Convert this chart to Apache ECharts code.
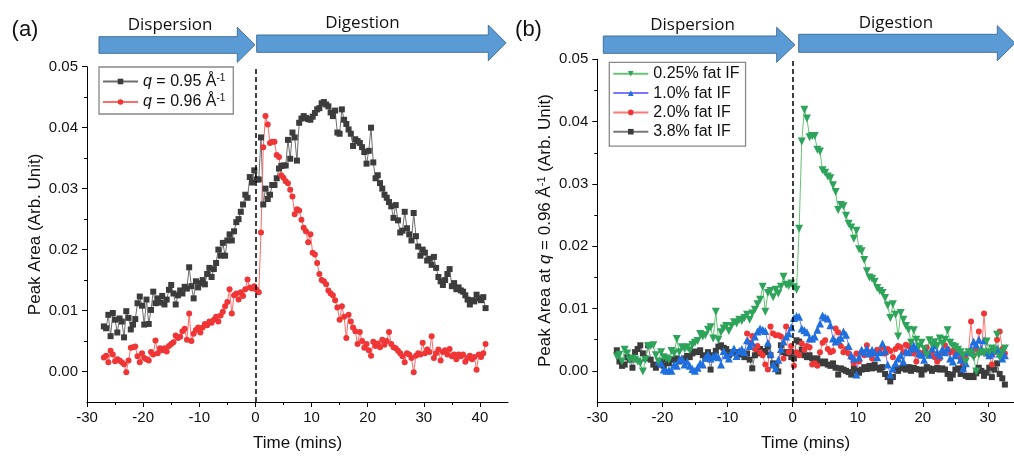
<!DOCTYPE html>
<html>
<head>
<meta charset="utf-8">
<script src="https://cdn.jsdelivr.net/npm/echarts@6/dist/echarts.min.js"></script>
<style>
html, body { margin: 0; background: #fff; }
#chart { width: 1014px; height: 457px; }
</style>
</head>
<body>
<div id="chart"></div>
<script>
// sampling: one point every 0.4 min
const STEP = 0.4
const START_A = -27      // both curves of panel (a), and 0.25 % / 3.8 % of (b)
const START_FAT10 = -20.6
const START_FAT20 = -7.0

// panel (a), q = 0.95 A^-1, from t = -27
const q095 = [
  .0074, .0071, .0093, .0058, .0096, .0085, .0064, .0087, .0082, .0056,
  .0099, .0088, .0069, .0077, .0086, .0112, .0123, .0108, .0077, .0118,
  .0078, .0101, .0131, .0112, .0120, .0113, .0124, .0110, .0118, .0134,
  .0142, .0128, .0110, .0125, .0133, .0128, .0139, .0136, .0171, .0140,
  .0120, .0148, .0138, .0145, .0150, .0143, .0160, .0170, .0155, .0168,
  .0178, .0200, .0190, .0211, .0190, .0215, .0225, .0215, .0230, .0245,
  .0250, .0262, .0274, .0290, .0285, .0319, .0310, .0330, .0315, .0315,
  .0384, .0274, .0300, .0283, .0290, .0306, .0306, .0317, .0333, .0337,
  .0338, .0338, .0380, .0349, .0392, .0384, .0346, .0408, .0415, .0419,
  .0416, .0414, .0413, .0418, .0424, .0430, .0432, .0440, .0442, .0438,
  .0435, .0425, .0419, .0428, .0392, .0390, .0430, .0413, .0406, .0397,
  .0390, .0370, .0381, .0378, .0375, .0368, .0360, .0341, .0362, .0400,
  .0343, .0317, .0322, .0309, .0300, .0290, .0285, .0278, .0271, .0252,
  .0273, .0248, .0228, .0231, .0262, .0235, .0225, .0215, .0260, .0222,
  .0205, .0190, .0200, .0195, .0182, .0185, .0175, .0188, .0170, .0155,
  .0148, .0142, .0150, .0160, .0168, .0140, .0145, .0135, .0138, .0133,
  .0131, .0125, .0118, .0110, .0117, .0115, .0126, .0120, .0117, .0122, .0104
]

// panel (a), q = 0.96 A^-1, from t = -27 (same run is the 0.25 % curve of (b))
const q096 = [
  .0023, .0026, .0015, .0034, .0028, .0017, .0020, .0018, .0015, .0012,
  -.0001, .0018, .0039, .0040, .0041, .0025, .0015, .0030, .0022, .0020,
  .0018, .0032, .0028, .0051, .0030, .0038, .0035, .0038, .0033, .0042,
  .0045, .0048, .0059, .0055, .0057, .0066, .0070, .0052, .0095, .0050,
  .0062, .0068, .0072, .0064, .0072, .0078, .0076, .0082, .0080, .0085,
  .0090, .0082, .0092, .0098, .0107, .0114, .0135, .0095, .0125, .0128,
  .0118, .0130, .0124, .0135, .0151, .0138, .0136, .0140, .0134, .0130,
  .0228, .0368, .0419, .0405, .0375, .0377, .0377, .0355, .0352, .0322,
  .0318, .0312, .0309, .0298, .0287, .0258, .0266, .0264, .0249, .0236,
  .0230, .0212, .0225, .0195, .0192, .0178, .0160, .0150, .0148, .0143,
  .0133, .0128, .0125, .0117, .0105, .0085, .0107, .0090, .0055, .0093,
  .0082, .0072, .0066, .0045, .0065, .0050, .0039, .0045, .0035, .0026,
  .0049, .0042, .0046, .0040, .0052, .0044, .0050, .0065, .0045, .0040,
  .0038, .0034, .0030, .0025, .0015, .0030, .0028, .0022, -.0001, .0026,
  .0030, .0028, .0047, .0030, .0036, .0032, .0058, .0022, .0030, .0036,
  .0018, .0032, .0035, .0028, .0037, .0025, .0028, .0020, .0028, .0025,
  .0028, .0016, .0022, .0026, .0020, .0024, .0003, .0028, .0024, .0030, .0045
]

// panel (b): 0.25 % fat IF is the q = 0.96 run, shown up to t = 32.6
const fat025 = q096.slice(0, 150)

// panel (b), 1.0 % fat IF, from t = -20.6
const fat10 = [
  .0015, .0012, .0002, .0000, .0001, .0000, .0010, .0008, .0018, .0020,
  .0010, .0015, .0008, .0003, .0000, .0005, .0012, .0010, .0021, .0026,
  .0020, .0023, .0025, .0022, .0010, .0032, .0025, .0020, .0030, .0036,
  .0024, .0032, .0035, .0030, .0049, .0040, .0045, .0055, .0063, .0068,
  .0066, .0064, .0045, .0028, .0010, .0004, .0018, .0035, .0047, .0055,
  .0060, .0070, .0085, .0088, .0087, .0068, .0065, .0062, .0052, .0052,
  .0055, .0066, .0076, .0089, .0086, .0084, .0073, .0052, .0047, .0050,
  .0053, .0063, .0058, .0040, .0025, .0020, -.0006, .0022, .0034, .0030,
  .0036, .0028, .0034, .0030, .0022, .0030, .0044, .0032, .0010, -.0006,
  .0004, .0012, .0020, .0025, .0015, .0031, .0030, .0036, .0041, .0036,
  .0028, .0026, .0018, .0030, .0026, .0036, .0041, .0030, .0025, .0035,
  .0030, .0036, .0020, .0015, .0025, .0030, .0018, .0004, .0012, .0030,
  .0036, .0047, .0042, .0050, .0035, .0049, .0030, .0025, .0028, .0034,
  .0036, .0028, .0020, .0025
]

// panel (b), 2.0 % fat IF, from t = -7.0
const fat20 = [
  .0060, .0045, .0056, .0035, .0040, .0030, .0025, .0010, .0002, .0071,
  .0060, .0057, .0057, .0055, .0020, .0071, .0030, .0040, .0008, .0030,
  .0025, .0044, .0034, .0040, .0038, .0010, .0012, .0008, .0030, .0045,
  .0049, .0035, .0030, .0032, .0068, .0062, .0040, .0030, .0035, .0028,
  .0022, .0012, .0028, .0015, .0030, .0025, .0041, .0030, .0020, .0028,
  .0034, .0030, .0038, .0028, .0035, .0032, .0022, .0035, .0040, .0038,
  .0030, .0042, .0040, .0035, .0028, .0015, .0030, .0025, .0030, .0038,
  .0025, .0030, .0022, .0015, .0020, .0030, .0041, .0035, .0030, .0032,
  .0025, .0030, .0020, .0012, .0025, .0030, .0079, .0025, .0035, .0063,
  .0030, .0092, .0028, .0025, .0010, .0030, .0050, .0063, .0035, .0028
]

// panel (b), 3.8 % fat IF, from t = -27
const fat38 = [
  .0033, .0015, .0008, .0010, .0022, .0018, .0005, .0030, .0035, .0041,
  .0028, .0020, .0041, .0018, .0010, .0005, .0010, .0015, .0008, .0018,
  .0012, .0018, .0018, .0020, .0015, .0018, .0020, .0024, .0022, .0028,
  .0031, .0030, .0033, .0025, .0020, .0030, .0002, .0025, .0032, .0039,
  .0041, .0037, .0035, .0025, .0030, .0028, .0030, .0026, .0028, .0022,
  .0028, .0018, .0004, .0025, .0028, .0035, .0032, .0030, .0039, .0025,
  .0012, .0008, -.0001, .0041, .0030, .0028, .0030, .0022, .0020, .0049,
  .0047, .0034, .0025, .0022, .0025, .0020, .0018, .0020, .0015, .0012,
  .0015, .0010, .0008, .0012, .0005, -.0006, .0004, .0002, .0000, -.0002,
  -.0006, .0004, .0000, -.0003, .0002, .0006, .0003, .0008, .0004, .0010,
  .0005, .0002, .0006, -.0005, -.0010, -.0017, -.0010, .0002, .0000, .0004,
  .0006, .0002, .0006, .0000, .0005, .0003, .0002, -.0006, .0002, .0006,
  .0004, .0000, .0003, .0005, .0002, .0004, .0002, -.0005, -.0012, -.0006,
  .0002, .0004, -.0005, .0006, -.0008, -.0010, -.0008, -.0010, -.0004, .0005,
  .0000, -.0008, -.0003, .0005, -.0010, .0002, .0012, -.0005, -.0012, -.0022
]

// tick labels
const xLabelsA = [-30, -20, -10, 0, 10, 20, 30, 40]
const xMinorA = [-25, -15, -5, 5, 15, 25, 35]
const xLabelsB = [-30, -20, -10, 0, 10, 20, 30]
const xMinorB = [-25, -15, -5, 5, 15, 25]
const yLabels = [0, 0.01, 0.02, 0.03, 0.04, 0.05]
const yMinor = [0.005, 0.015, 0.025, 0.035, 0.045]

const FONT = '"Liberation Sans", Arial, sans-serif'
const INK = '#111'

function pairs(start, values) {
  return values.map((v, i) => [+(start + i * STEP).toFixed(1), v])
}

function xAxisMain(grid, max, labels) {
  return {
    type: 'value', gridIndex: grid, position: 'bottom', min: -30, max: max,
    axisLine: { onZero: false, lineStyle: { color: '#000', width: 1 } },
    axisTick: { customValues: labels, length: 5, lineStyle: { color: '#000' } },
    axisLabel: { customValues: labels, margin: 8, fontSize: 15, fontFamily: FONT, color: INK },
    splitLine: { show: false },
    name: 'Time (mins)', nameLocation: 'middle', nameGap: 33,
    nameTextStyle: { fontSize: 17, fontFamily: FONT, color: INK }
  }
}

function xAxisMinor(grid, max, ticks) {
  return {
    type: 'value', gridIndex: grid, position: 'bottom', min: -30, max: max,
    axisLine: { show: false, onZero: false },
    axisTick: { customValues: ticks, length: 3, lineStyle: { color: '#000' } },
    axisLabel: { show: false },
    splitLine: { show: false }
  }
}

function yAxisMain(grid, name, rich) {
  return {
    type: 'value', gridIndex: grid, position: 'left', min: -0.005, max: 0.05,
    axisLine: { show: true, onZero: false, lineStyle: { color: '#000', width: 1 } },
    axisTick: { show: true, customValues: yLabels, length: 5, lineStyle: { color: '#000' } },
    axisLabel: {
      customValues: yLabels, margin: 9, fontSize: 15, fontFamily: FONT, color: INK,
      formatter: v => v.toFixed(2)
    },
    splitLine: { show: false },
    name: name, nameLocation: 'middle', nameGap: 43,
    nameTextStyle: { fontSize: 17, fontFamily: FONT, color: INK, rich: rich }
  }
}

function yAxisMinor(grid) {
  return {
    type: 'value', gridIndex: grid, position: 'left', min: -0.005, max: 0.05,
    axisLine: { show: false, onZero: false },
    axisTick: { show: true, customValues: yMinor, length: 3, lineStyle: { color: '#000' } },
    axisLabel: { show: false },
    splitLine: { show: false }
  }
}

const dashedZero = {
  silent: true, symbol: 'none', animation: false,
  label: { show: false },
  lineStyle: { color: '#000', type: [5, 3], width: 1.5 },
  data: [{ xAxis: 0 }]
}

function lineSeries(name, grid, data, symbol, size, markColor, lineColor, extra) {
  return Object.assign({
    type: 'line', name: name, xAxisIndex: grid * 2, yAxisIndex: grid * 2,
    data: data, symbol: symbol, symbolSize: size, showSymbol: true,
    lineStyle: { color: lineColor, width: 1 },
    itemStyle: { color: markColor },
    emphasis: { disabled: true },
    animation: false
  }, extra || {})
}

const richSmall = {
  t: { fontSize: 16, fontFamily: FONT, color: INK, lineHeight: 17 },
  i: { fontSize: 16, fontFamily: FONT, color: INK, fontStyle: 'italic', lineHeight: 17 },
  s: { fontSize: 10, fontFamily: FONT, color: INK, verticalAlign: 'top', lineHeight: 17 }
}
const richName = {
  t: { fontSize: 17, fontFamily: FONT, color: INK, lineHeight: 18 },
  i: { fontSize: 17, fontFamily: FONT, color: INK, fontStyle: 'italic', lineHeight: 18 },
  s: { fontSize: 11, fontFamily: FONT, color: INK, verticalAlign: 'top', lineHeight: 18 }
}

const NAME_095 = 'q = 0.95 Å-1'
const NAME_096 = 'q = 0.96 Å-1'
const legendText = {}
legendText[NAME_095] = '{i|q}{t| = 0.95 Å}{s|-1}'
legendText[NAME_096] = '{i|q}{t| = 0.96 Å}{s|-1}'

const ARROW_FILL = '#5b9bd5'
const ARROW_EDGE = '#41719c'

function arrow(x0, x1, xTip, bodyTop, bodyBot, headTop, headBot) {
  const mid = (headTop + headBot) / 2
  return {
    type: 'polygon', silent: true,
    shape: { points: [[x0, bodyTop], [x1, bodyTop], [x1, headTop], [xTip, mid], [x1, headBot], [x1, bodyBot], [x0, bodyBot]] },
    style: { fill: ARROW_FILL, stroke: ARROW_EDGE, lineWidth: 1 }
  }
}

function label(text, x, y, size, family) {
  return {
    type: 'text', x: x, y: y, silent: true,
    style: {
      text: text, fontSize: size, fontFamily: family, fill: INK,
      align: 'center', verticalAlign: 'middle',
      textAlign: 'center', textVerticalAlign: 'middle'
    }
  }
}

const chart = echarts.init(document.getElementById('chart'), null, { renderer: 'canvas' })

chart.setOption({
  backgroundColor: '#fff',
  animation: false,
  grid: [
    { left: 87, top: 66.7, width: 421, height: 340 },
    { left: 597.3, top: 59.3, width: 419, height: 344.7 }
  ],
  xAxis: [
    xAxisMain(0, 45, xLabelsA), xAxisMinor(0, 45, xMinorA),
    xAxisMain(1, 34, xLabelsB), xAxisMinor(1, 34, xMinorB)
  ],
  yAxis: [
    yAxisMain(0, 'Peak Area (Arb. Unit)', richName), yAxisMinor(0),
    yAxisMain(1, '{t|Peak Area at }{i|q}{t| = 0.96 Å}{s|-1}{t| (Arb. Unit)}', richName), yAxisMinor(1)
  ],
  legend: [
    {
      orient: 'vertical', left: 99, top: 67,
      data: [NAME_095, NAME_096],
      formatter: n => legendText[n],
      itemWidth: 35, itemHeight: 7, itemGap: 4,
      padding: [6, 8, 4, 3],
      borderColor: '#888', borderWidth: 1.3,
      selectedMode: false,
      textStyle: { fontSize: 16, fontFamily: FONT, color: INK, rich: richSmall }
    },
    {
      orient: 'vertical', left: 609.3, top: 62.3,
      data: ['0.25% fat IF', '1.0% fat IF', '2.0% fat IF', '3.8% fat IF'],
      itemWidth: 35, itemHeight: 7, itemGap: 2.3,
      padding: [3, 6, 6, 3],
      borderColor: '#888', borderWidth: 1.3,
      selectedMode: false,
      textStyle: { fontSize: 16, fontFamily: FONT, color: INK, lineHeight: 17 }
    }
  ],
  series: [
    lineSeries(NAME_095, 0, pairs(START_A, q095), 'rect', 6, '#3c3c3c', '#6e6e6e', { markLine: dashedZero }),
    lineSeries(NAME_096, 0, pairs(START_A, q096), 'circle', 6, '#ef3535', '#ff6b6b'),
    lineSeries('3.8% fat IF', 1, pairs(START_A, fat38), 'rect', 6, '#3c3c3c', '#777777', { markLine: dashedZero }),
    lineSeries('2.0% fat IF', 1, pairs(START_FAT20, fat20), 'circle', 6, '#ef3535', '#ff7777'),
    lineSeries('1.0% fat IF', 1, pairs(START_FAT10, fat10), 'triangle', 8, '#1f6fde', '#7777ff'),
    lineSeries('0.25% fat IF', 1, pairs(START_A, fat025), 'triangle', 8, '#2ea35a', '#66c476', { symbolRotate: 180 })
  ],
  graphic: [
    arrow(99, 237.3, 255, 36.7, 53.3, 27.3, 62.3),
    arrow(256.7, 488.3, 506, 35, 52.3, 25, 60.7),
    arrow(603.3, 776.7, 795, 36, 53.3, 27.3, 62.3),
    arrow(798.7, 997.3, 1015, 34.3, 52.3, 25.7, 60.7),
    label('Dispersion', 170, 25.5, 17, '"Open Sans", sans-serif'),
    label('Digestion', 362.5, 23, 17, '"Open Sans", sans-serif'),
    label('Dispersion', 692.5, 25.5, 17, '"Open Sans", sans-serif'),
    label('Digestion', 896, 23, 17, '"Open Sans", sans-serif'),
    label('(a)', 25, 30, 22, FONT),
    label('(b)', 528.5, 30, 22, FONT)
  ]
})
</script>
</body>
</html>
